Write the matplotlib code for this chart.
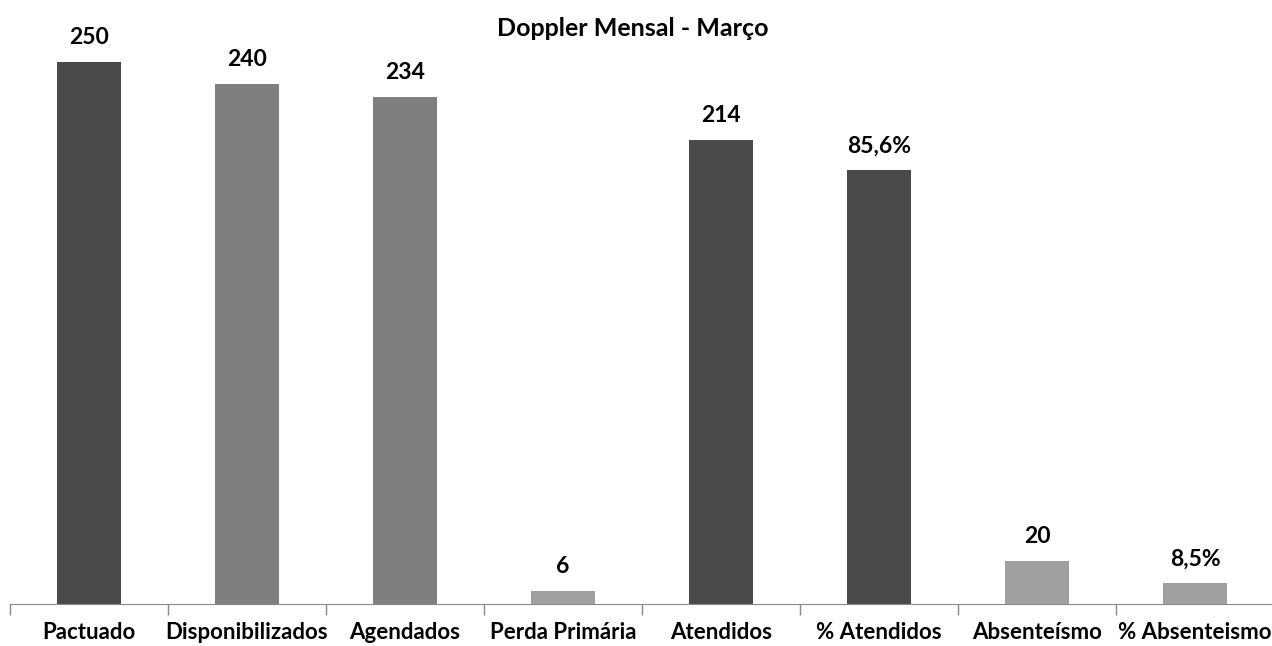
import matplotlib
matplotlib.use("Agg")
import matplotlib.pyplot as plt

categories = ["Pactuado", "Disponibilizados", "Agendados", "Perda Primária",
              "Atendidos", "% Atendidos", "Absenteísmo", "% Absenteismo"]
bar_heights = [250, 240, 234, 6, 214, 200, 20, 9.5]
value_labels = ["250", "240", "234", "6", "214", "85,6%", "20", "8,5%"]
bar_colors = ["#4a4a4a", "#7f7f7f", "#7f7f7f", "#a0a0a0",
              "#4a4a4a", "#4a4a4a", "#a0a0a0", "#a0a0a0"]
title = "Doppler Mensal - Março"

W, H = 1272, 646
fig = plt.figure(figsize=(W / 100, H / 100), dpi=100)
left_px, right_px, base_px, top_px = 10, 1274, 604, 30
ax = fig.add_axes([left_px / W, 1 - base_px / H, (right_px - left_px) / W, (base_px - top_px) / H])

x = list(range(len(categories)))
ax.bar(x, bar_heights, width=0.4, color=bar_colors)
ax.set_xlim(-0.5, len(categories) - 0.5)
ax.set_ylim(0, 250 * (base_px - top_px) / (base_px - 62))

font = "Lato"
for xi, h, lab in zip(x, bar_heights, value_labels):
    ax.annotate(lab, (xi, h), xytext=(0, 10), textcoords="offset points",
                ha="center", va="bottom", fontsize=16.5, fontweight="bold", family=font)

for s in ["top", "right", "left"]:
    ax.spines[s].set_visible(False)
ax.spines["bottom"].set_color("#888888")
ax.set_yticks([])
ax.set_xticks([i - 0.5 for i in range(len(categories) + 1)], minor=False)
ax.set_xticklabels([])
ax.tick_params(axis="x", length=8, color="#888888", width=1)
ax.set_xticks(x, minor=True)
ax.set_xticklabels(categories, minor=True, fontsize=16, fontweight="bold", family=font)
ax.tick_params(axis="x", which="minor", length=0, pad=13)

fig.text(0.5 - 3 / W, 1 - 28 / H, title, ha="center", va="center", fontsize=18,
         fontweight="bold", family=font)

fig.savefig("out.png", dpi=100, facecolor="white")
